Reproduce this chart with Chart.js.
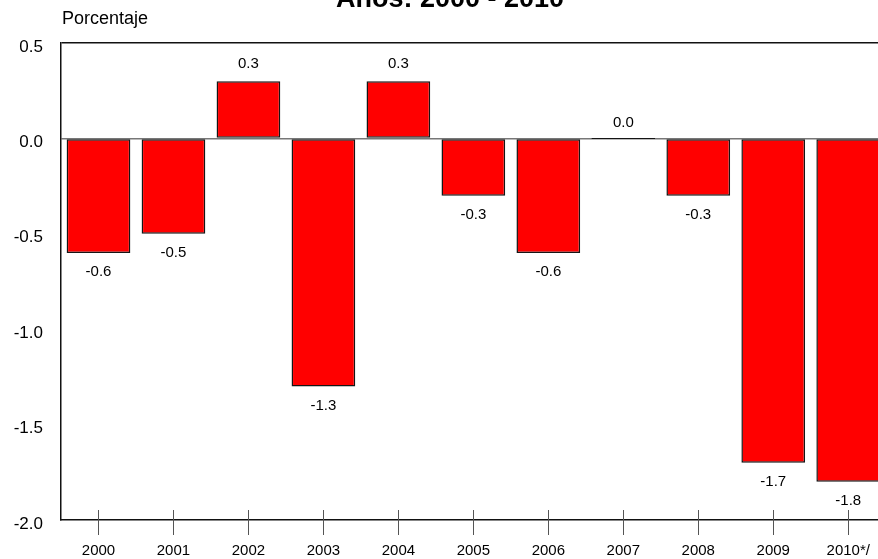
<!DOCTYPE html>
<html>
<head>
<meta charset="utf-8">
<script src="https://cdn.jsdelivr.net/npm/chart.js@4/dist/chart.umd.min.js"></script>
<style>
html,body{margin:0;padding:0;background:#fff;overflow:hidden;}
#wrap{position:absolute;left:0;top:0;width:892px;height:559px;}
</style>
</head>
<body>
<div id="wrap"><canvas id="c"></canvas></div>
<script>
const categories = ['2000','2001','2002','2003','2004','2005','2006','2007','2008','2009','2010*/'];
const values = [-0.6, -0.5, 0.3, -1.3, 0.3, -0.3, -0.6, 0.0, -0.3, -1.7, -1.8];
const titleText = 'Años: 2000 - 2010';
const yAxisLabel = 'Porcentaje';
const yTicks = [-2.0, -1.5, -1.0, -0.5, 0.0, 0.5];

const FONT = "'Liberation Sans', Arial, Helvetica, sans-serif";

const overlay = {
  id: 'overlay',
  afterDraw(chart) {
    const ctx = chart.ctx;
    const xs = chart.scales.x;
    const area = chart.chartArea;
    ctx.save();
    // title (cut at top)
    ctx.fillStyle = '#000';
    ctx.font = "bold 27px " + FONT;
    ctx.textAlign = 'center';
    ctx.textBaseline = 'alphabetic';
    ctx.fillText(titleText, 450, 7);
    // axis label
    ctx.font = "18px " + FONT;
    ctx.textAlign = 'left';
    ctx.fillText(yAxisLabel, 62, 24);
    // x tick marks crossing the axis
    ctx.strokeStyle = '#555';
    ctx.lineWidth = 1;
    for (let i = 0; i < categories.length; i++) {
      const px = Math.round(xs.getPixelForTick(i)) + 0.5;
      ctx.beginPath();
      ctx.moveTo(px, area.bottom - 10);
      ctx.lineTo(px, area.bottom + 15);
      ctx.stroke();
    }
    // value labels
    const meta = chart.getDatasetMeta(0);
    ctx.font = "15px " + FONT;
    ctx.textAlign = 'center';
    ctx.textBaseline = 'middle';
    ctx.fillStyle = '#000';
    meta.data.forEach((bar, i) => {
      const v = values[i];
      let y;
      if (v > 0) y = bar.y - 17;
      else if (v < 0) y = bar.y + 19;
      else y = bar.y - 16;
      ctx.fillText(v.toFixed(1), bar.x, y);
    });
    ctx.restore();
  }
};

new Chart(document.getElementById('c'), {
  type: 'bar',
  data: {
    labels: categories,
    datasets: [{
      data: values,
      backgroundColor: '#FF0000',
      borderColor: '#151515',
      borderWidth: 1.5,
      borderSkipped: false,
      barPercentage: 0.85,
      categoryPercentage: 1.0,
      minBarLength: 1
    }]
  },
  options: {
    responsive: true,
    maintainAspectRatio: false,
    animation: false,
    devicePixelRatio: 1,
    layout: { padding: { left: 0, top: 43, right: 2, bottom: 0 } },
    plugins: { legend: { display: false }, title: { display: false }, tooltip: { enabled: false } },
    scales: {
      x: {
        offset: true,
        grid: { display: true, drawOnChartArea: false, drawTicks: false, offset: false },
        border: { display: true, color: '#111', width: 1.5 },
        ticks: { color: '#000', font: { family: FONT, size: 15 }, padding: 22, maxRotation: 0, autoSkip: false },
        afterFit(s) { s.height = 39; }
      },
      y: {
        min: -2.0, max: 0.5,
        afterBuildTicks(s) { s.ticks = yTicks.map(v => ({ value: v })); },
        grid: {
          drawTicks: false,
          lineWidth(ctx) { return 1.5; },
          color(ctx) {
            if (!ctx.tick) return 'rgba(0,0,0,0)';
            if (ctx.tick.value === 0.5) return '#111';
            if (ctx.tick.value === 0) return '#777';
            return 'rgba(0,0,0,0)';
          }
        },
        border: { display: true, color: '#111', width: 1.5 },
        ticks: {
          color: '#000', font: { family: FONT, size: 17 }, padding: 18, labelOffset: 4,
          callback(v) { return Number(v).toFixed(1); }
        },
        afterFit(s) { s.width = 61; }
      }
    }
  },
  plugins: [overlay]
});
</script>
</body>
</html>
